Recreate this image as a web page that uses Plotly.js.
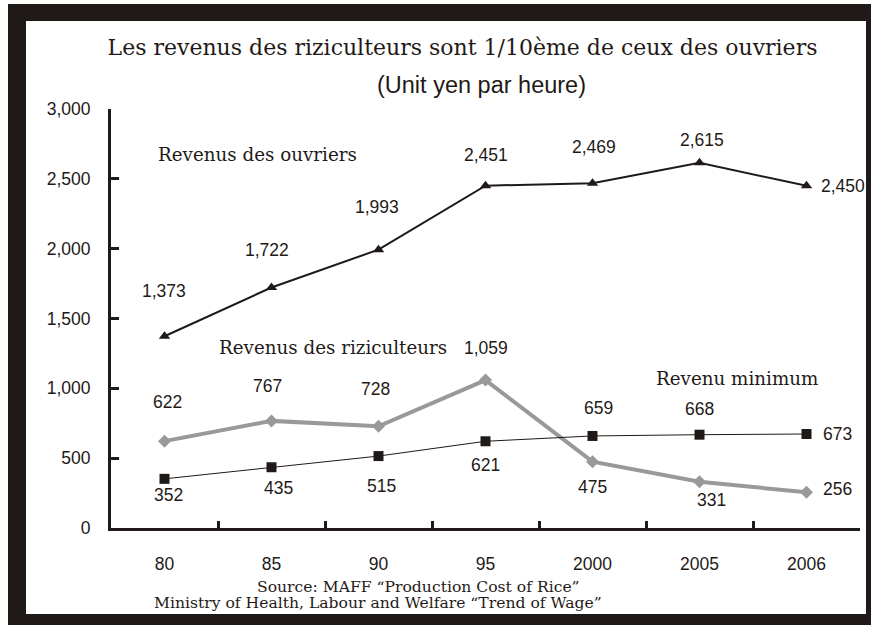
<!DOCTYPE html>
<html>
<head>
<meta charset="utf-8">
<script src="https://cdn.plot.ly/plotly-3.0.1.min.js"></script>
<style>
  body { margin: 0; background: #fff; }
  #chart { width: 871px; height: 625px; }
</style>
</head>
<body>
<div id="chart"></div>
<script>
var years = ['80', '85', '90', '95', '2000', '2005', '2006'];

var workers = [1373, 1722, 1993, 2451, 2469, 2615, 2450];
var farmers = [622, 767, 728, 1059, 475, 331, 256];
var minimum = [352, 435, 515, 621, 659, 668, 673];

// label offsets in px (x, y), one per point
var workersShift = [[-1, 45], [-5, 37], [-2, 43], [0, 31], [1, 36], [2, 23], [36, 0]];
var farmersShift = [[3, 39], [-4, 35], [-3, 37], [0, 32], [0, -25], [12, -18], [31, 3]];
var minimumShift = [[4, -16], [7, -21], [3, -30], [0, -24], [6, 28], [0, 26], [31, 0]];

var ink = '#1f1a17';
var grey = '#999999';
var serif = 'DejaVu Serif, serif';
var sans = 'Liberation Sans, Arial, sans-serif';

var trace1 = {
    x: years,
    y: workers,
    name: 'Revenus des ouvriers',
    type: 'scatter',
    mode: 'lines+markers',
    line: {color: ink, width: 2},
    marker: {symbol: 'triangle-up', size: 10, color: ink}
};

var trace2 = {
    x: years,
    y: farmers,
    name: 'Revenus des riziculteurs',
    type: 'scatter',
    mode: 'lines+markers',
    line: {color: grey, width: 4},
    marker: {symbol: 'diamond', size: 10, color: grey}
};

var trace3 = {
    x: years,
    y: minimum,
    name: 'Revenu minimum',
    type: 'scatter',
    mode: 'lines+markers',
    line: {color: ink, width: 1},
    marker: {symbol: 'square', size: 10, color: ink}
};

function labels(values, shifts) {
    return values.map(function (v, i) {
        return {
            x: i, y: v, text: v.toLocaleString('en-US'),
            xanchor: 'center', yanchor: 'middle',
            showarrow: false, xshift: shifts[i][0], yshift: shifts[i][1],
            font: {family: sans, size: 17.5, color: ink}
        };
    });
}

// plot area in px: x 111..860, y 528..109
function px(x) { return (x - 111) / 749; }
function py(y) { return (528 - y) / 419; }

function note(text, x, y, family, size, anchor) {
    return {xref: 'paper', yref: 'paper', x: px(x), y: py(y),
        xanchor: anchor || 'center', yanchor: 'middle',
        text: text, showarrow: false, font: {family: family, size: size, color: ink}};
}

function bar(x0, y0, x1, y1) {
    return {type: 'rect', xref: 'paper', yref: 'paper',
        x0: px(x0), x1: px(x1), y0: py(y0), y1: py(y1),
        fillcolor: ink, line: {width: 0}, layer: 'above'};
}

var notes = [
    note('Revenus des ouvriers', 156, 155, serif, 18.3, 'left'),
    note('Revenus des riziculteurs', 217, 347, serif, 18.3, 'left'),
    note('Revenu minimum', 654, 378, serif, 18.3, 'left'),
    note('(Unit yen par heure)', 481, 85, sans, 23.5),
    note('Source: MAFF \u201cProduction Cost of Rice\u201d', 418, 587, serif, 15.6),
    note('Ministry of Health, Labour and Welfare \u201cTrend of Wage\u201d', 378, 603, serif, 15.6)
];

var layout = {
    width: 871,
    height: 625,
    margin: {l: 111, r: 11, t: 109, b: 97},
    paper_bgcolor: '#fff',
    plot_bgcolor: '#fff',
    showlegend: false,
    title: {
        text: 'Les revenus des riziculteurs sont 1/10\u00e8me de ceux des ouvriers',
        font: {family: serif, size: 22, color: ink},
        x: 462.5 / 871, xanchor: 'center', y: 1 - 47 / 625, yanchor: 'middle'
    },
    xaxis: {
        type: 'category',
        range: [-0.5, 6.5],
        showline: true, linewidth: 3, linecolor: ink,
        ticks: 'inside', tickson: 'boundaries', ticklen: 7, tickwidth: 3, tickcolor: ink,
        ticklabelstandoff: 18,
        tickangle: 0,
        tickfont: {family: sans, size: 17.5, color: ink},
        showgrid: false, zeroline: false, fixedrange: true
    },
    yaxis: {
        range: [0, 3000],
        dtick: 500,
        tickformat: ',d',
        showline: true, linewidth: 3, linecolor: ink,
        ticks: 'inside', ticklen: 8, tickwidth: 3, tickcolor: ink,
        ticklabelstandoff: 14,
        tickfont: {family: sans, size: 17.5, color: ink},
        showgrid: false, zeroline: false, fixedrange: true
    },
    annotations: labels(workers, workersShift)
        .concat(labels(farmers, farmersShift))
        .concat(labels(minimum, minimumShift))
        .concat(notes),
    shapes: [
        bar(8, 4, 26, 625),
        bar(8, 4, 871, 21),
        bar(8, 614, 871, 625),
        bar(866, 4, 871, 625)
    ]
};

Plotly.newPlot('chart', [trace1, trace2, trace3], layout, {displayModeBar: false});
</script>
</body>
</html>
